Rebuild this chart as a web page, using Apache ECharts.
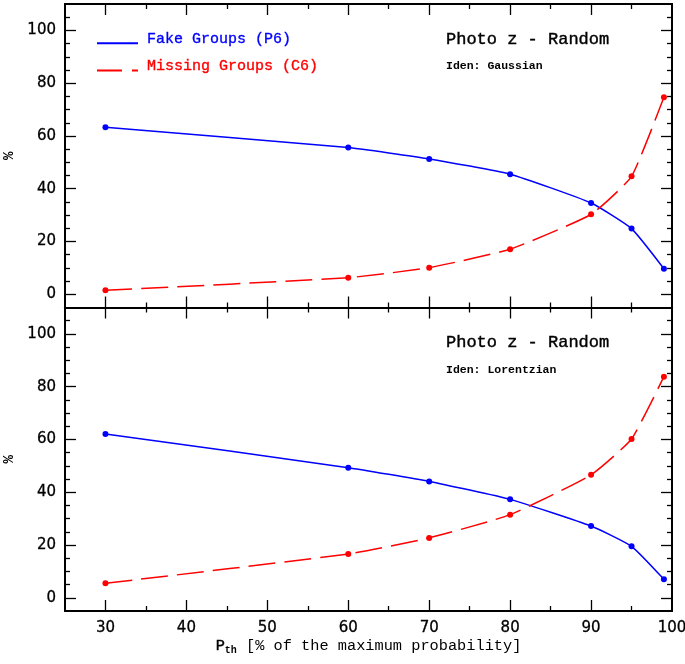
<!DOCTYPE html>
<html><head><meta charset="utf-8">
<script src="https://cdn.jsdelivr.net/npm/echarts@6/dist/echarts.min.js"></script>
<style>html,body{margin:0;padding:0;background:#fff}#c{width:685px;height:664px}</style>
</head><body><div id="c"></div>
<script>
// ---- data ----
const pth = [30, 60, 70, 80, 90, 95, 99];
const fakeGaussian = [63.3, 55.6, 51.3, 45.5, 34.6, 24.9, 9.7];
const missingGaussian = [1.5, 6.3, 10.1, 17.1, 30.3, 44.7, 74.7];
const fakeLorentzian = [62.1, 49.3, 44.1, 37.3, 27.2, 19.5, 7.0];
const missingLorentzian = [5.5, 16.6, 22.7, 31.5, 46.6, 60.2, 83.8];
const xMajorTicks = [30, 40, 50, 60, 70, 80, 90];
const xMinorTicks = [35, 45, 55, 65, 75, 85, 95];
const xTickLabels = [30, 40, 50, 60, 70, 80, 90, 100];
const yMajorTicks = [0, 20, 40, 60, 80, 100];
const yMinorTicks = [5, 10, 15, 25, 30, 35, 45, 50, 55, 65, 70, 75, 85, 90, 95, 105];
const yTickLabels = [0, 20, 40, 60, 80, 100];
const seriesNames = ['Fake Groups (P6)', 'Missing Groups (C6)'];
const panelTitles = ['Photo z - Random', 'Photo z - Random'];
const panelSubtitles = ['Iden: Gaussian', 'Iden: Lorentzian'];
const xName = '{p|P}{sub|th} [% of the maximum probability]';
const yName = '%';

// ---- styles ----
const MONO = 'Liberation Mono';
const SANS = 'DejaVu Sans';
const BLUE = '#0000ff', RED = '#ff0000';
const MAJ = 11, MIN = 5;

function xAx(g, pos, ticks, len, labels, name) {
  const a = {
    type: 'value', gridIndex: g, position: pos, min: 25, max: 100,
    axisLine: {show: true, onZero: false, lineStyle: {color: '#000', width: 2}},
    axisTick: {show: true, inside: true, length: len, customValues: ticks, lineStyle: {color: '#000', width: 1.3}},
    axisLabel: labels ? {show: true, customValues: labels, margin: 10, color: '#000', fontFamily: SANS, fontSize: 15,
      textBorderColor: '#000', textBorderWidth: 0.3} : {show: false},
    splitLine: {show: false}, minorTick: {show: false}
  };
  if (name) {
    a.name = name; a.nameLocation = 'middle'; a.nameGap = 25;
    a.nameTextStyle = {color: '#000', fontFamily: MONO, fontSize: 15.3,
      rich: {p: {fontFamily: MONO, fontSize: 15.3, color: '#000', textBorderColor: '#000', textBorderWidth: 0.4},
             sub: {fontFamily: MONO, fontSize: 10, color: '#000', fontWeight: 'bold', padding: [9, 0, 0, 0]}}};
  }
  return a;
}
function yAx(g, pos, ticks, len, labels, name) {
  const a = {
    type: 'value', gridIndex: g, position: pos, min: -5, max: 110,
    axisLine: {show: true, onZero: false, lineStyle: {color: '#000', width: 2}},
    axisTick: {show: true, inside: true, length: len, customValues: ticks, lineStyle: {color: '#000', width: 1.3}},
    axisLabel: labels ? {show: true, customValues: labels, margin: 9, color: '#000', fontFamily: SANS, fontSize: 15,
      textBorderColor: '#000', textBorderWidth: 0.3} : {show: false},
    splitLine: {show: false}, minorTick: {show: false}
  };
  if (name) {
    a.name = name; a.nameLocation = 'middle'; a.nameGap = 44;
    a.nameTextStyle = {color: '#000', fontFamily: MONO, fontSize: 14, fontWeight: 'bold'};
  }
  return a;
}

const xAxes = [], yAxes = [];
for (let g = 0; g < 2; g++) {
  xAxes.push(xAx(g, 'bottom', xMajorTicks, MAJ, g === 1 ? xTickLabels : null, g === 1 ? xName : null));
  xAxes.push(xAx(g, 'bottom', xMinorTicks, MIN, null, null));
  xAxes.push(xAx(g, 'top', xMajorTicks, MAJ, null, null));
  xAxes.push(xAx(g, 'top', xMinorTicks, MIN, null, null));
  yAxes.push(yAx(g, 'left', yMajorTicks, MAJ, yTickLabels, yName));
  yAxes.push(yAx(g, 'left', yMinorTicks, MIN, null, null));
  yAxes.push(yAx(g, 'right', yMajorTicks, MAJ, null, null));
  yAxes.push(yAx(g, 'right', yMinorTicks, MIN, null, null));
}

function pts(arr) { return pth.map((x, i) => [x, arr[i]]); }
function lineSeries(name, arr, g, color, dashed) {
  return {
    type: 'line', name: name, xAxisIndex: g * 4, yAxisIndex: g * 4, data: pts(arr),
    smooth: 0.15,
    symbol: 'circle', symbolSize: 6, showSymbol: true,
    itemStyle: {color: color},
    lineStyle: {color: color, width: 1.5, type: dashed ? [27, 9] : 'solid'},
    emphasis: {disabled: true}, animation: false, z: 3
  };
}

const titles = [];
const titleTops = [[30.5, 60], [334, 364]];
for (let g = 0; g < 2; g++) {
  titles.push({text: panelTitles[g], left: 446, top: titleTops[g][0], padding: 0,
    textStyle: {fontFamily: MONO, fontSize: 17, fontWeight: 'normal', color: '#000', textBorderColor: '#000', textBorderWidth: 0.4}});
  titles.push({text: panelSubtitles[g], left: 446, top: titleTops[g][1], padding: 0,
    textStyle: {fontFamily: MONO, fontSize: 11.5, fontWeight: 'bold', color: '#000'}});
}

const chart = echarts.init(document.getElementById('c'), null, {renderer: 'canvas'});
chart.setOption({
  animation: false,
  backgroundColor: '#fff',
  title: titles,
  legend: {
    show: true, orient: 'vertical', left: 97, top: 31.5, padding: 0, itemGap: 12,
    itemWidth: 41, itemHeight: 10, selectedMode: false, symbolKeepAspect: false,
    textStyle: {fontFamily: MONO, fontSize: 15, padding: [0, 0, 0, 4]},
    data: [
      {name: seriesNames[0], icon: 'path://M0,0h0.01v0.01h-0.01Z M0,8H41V10H0Z',
        textStyle: {color: BLUE, textBorderColor: BLUE, textBorderWidth: 0.35}},
      {name: seriesNames[1], icon: 'path://M0,0h0.01v0.01h-0.01Z M0,8H25V10H0Z M35,8H41V10H35Z',
        textStyle: {color: RED, textBorderColor: RED, textBorderWidth: 0.35}}
    ]
  },
  grid: [
    {left: 65, right: 13, top: 4, height: 303.5, outerBoundsMode: 'none', containLabel: false},
    {left: 65, right: 13, top: 307.5, height: 303.5, outerBoundsMode: 'none', containLabel: false}
  ],
  xAxis: xAxes,
  yAxis: yAxes,
  series: [
    lineSeries(seriesNames[0], fakeGaussian, 0, BLUE, false),
    lineSeries(seriesNames[1], missingGaussian, 0, RED, true),
    lineSeries(seriesNames[0], fakeLorentzian, 1, BLUE, false),
    lineSeries(seriesNames[1], missingLorentzian, 1, RED, true)
  ]
});
</script></body></html>
